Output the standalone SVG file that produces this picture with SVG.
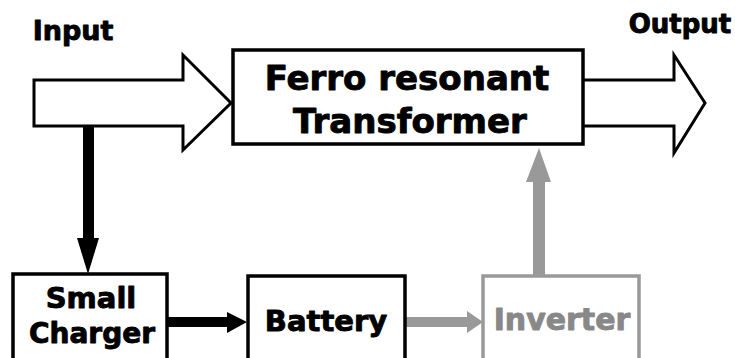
<svg xmlns="http://www.w3.org/2000/svg" width="735" height="358" viewBox="0 0 735 358">
<style>
text{font-family:"DejaVu Sans","Liberation Sans",sans-serif;font-weight:bold;text-anchor:middle;fill:#000;stroke:#000;stroke-width:0.9;stroke-linejoin:round}
text.g{fill:#888;stroke:#888}
.blk{fill:#fff;stroke:#000;stroke-width:3.5}
.gry{fill:#fff;stroke:#999;stroke-width:3.5}
.bigarrow{fill:#fff;stroke:#000;stroke-width:3;stroke-linejoin:miter}
</style>
<rect width="735" height="358" fill="#fff"/>
<text x="73" y="40" font-size="27">Input</text>
<text x="680" y="33" font-size="26">Output</text>
<g id="connectors">
<path class="bigarrow" d="M34,80 H183 V55 L231,103 L183,150 V126 H34 Z"/>
<path class="bigarrow" d="M583,80 H674 V55 L705,103 L674,153 V126 H583"/>
<rect x="83" y="126" width="11" height="113" fill="#000"/>
<path d="M77,238 H99 L88,274 Z" fill="#000"/>
<rect x="167" y="317" width="61" height="10" fill="#000"/>
<path d="M227,312 L247,322 L227,333 Z" fill="#000"/>
<rect x="405" y="317" width="63" height="10" fill="#999"/>
<path d="M467,311 L483,322 L467,333 Z" fill="#999"/>
<rect x="533" y="181" width="12" height="96" fill="#999"/>
<path d="M526,182 L539,148 L551,182 Z" fill="#999"/>
</g>
<g id="transformer">
<rect class="blk" x="233" y="50" width="350" height="94" stroke-width="3"/>
<text x="407" y="90" font-size="34">Ferro resonant</text>
<text x="410" y="133" font-size="34">Transformer</text>
</g>
<g id="charger">
<rect class="blk" x="13" y="274" width="154" height="100"/>
<text x="91" y="308" font-size="29">Small</text>
<text x="92" y="343" font-size="28">Charger</text>
</g>
<g id="battery">
<rect class="blk" x="248" y="276" width="157" height="100"/>
<text x="326" y="331" font-size="29">Battery</text>
</g>
<g id="inverter">
<rect class="gry" x="483" y="276" width="156" height="100"/>
<text class="g" x="562" y="330" font-size="30">Inverter</text>
</g>
</svg>
